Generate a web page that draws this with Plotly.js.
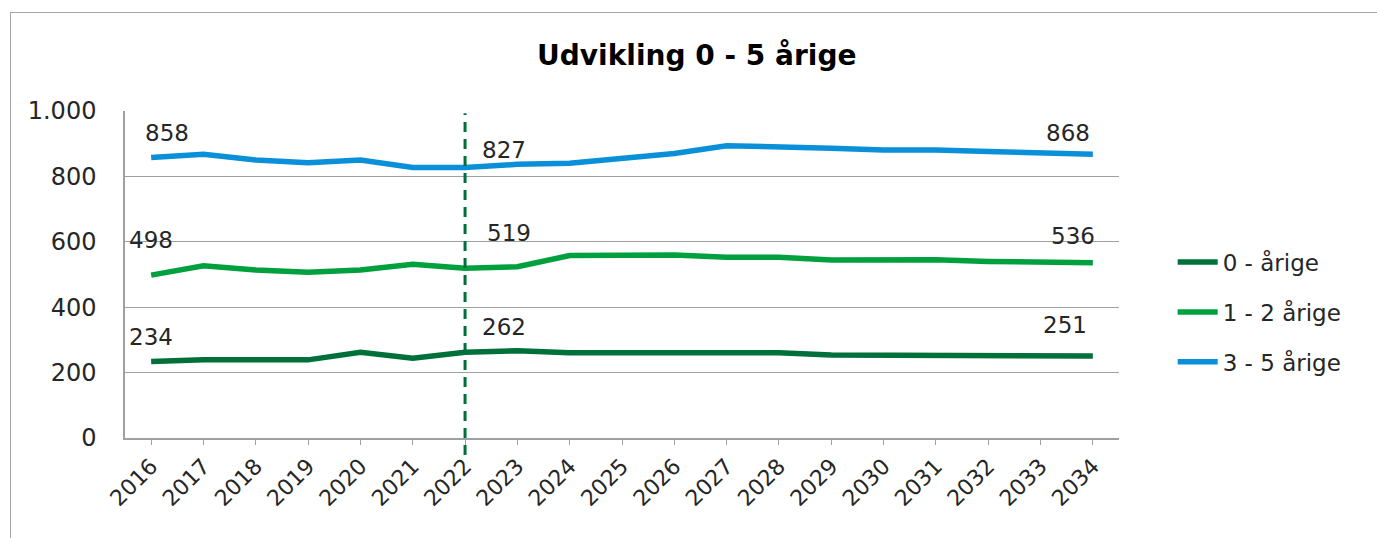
<!DOCTYPE html>
<html>
<head>
<meta charset="utf-8">
<script src="https://cdn.plot.ly/plotly-3.0.1.min.js"></script>
<style>
html,body{margin:0;padding:0;background:#fff;overflow:hidden;}
#wrap{position:relative;width:1377px;height:538px;}
#chart{width:1377px;height:538px;}
#frame{position:absolute;left:10px;top:12px;width:1400px;height:600px;border:1.5px solid #a6a6a6;pointer-events:none;}
#err{position:absolute;left:20px;top:500px;color:red;font:12px monospace;}
</style>
</head>
<body>
<div id="wrap"><div id="chart"></div><div id="frame"></div><div id="err"></div></div>
<script>
window.onerror = function(m){ document.getElementById('err').textContent += ' ' + m; };
const years = ['2016','2017','2018','2019','2020','2021','2022','2023','2024','2025','2026','2027','2028','2029','2030','2031','2032','2033','2034'];
const age0   = [234,239,239,239,262,244,262,267,261,261,261,261,261,254,254,254,254,254,251];
const age12  = [498,527,514,507,514,531,519,524,558,560,560,553,553,544,544,545,540,540,536];
const age35  = [858,868,850,842,850,827,827,837,840,855,870,894,888,886,881,881,876,871,868];
const seriesNames = ['0 - årige','1 - 2 årige','3 - 5 årige'];
const colors = ['#00703a','#00a03e','#0a90d8'];
const markerYear = '2022';
const labelIdx = [0, 6, 18];

const FONT = 'DejaVu Sans, sans-serif';
const series = [age0, age12, age35];
const traces = series.map((s,i)=>({
  x: years, y: s, type:'scatter', mode:'lines', name: seriesNames[i], legendgroup:'g'+i,
  line:{color:colors[i], width:5.5, shape:'linear'}, hoverinfo:'skip'
}));

// label offsets (styling only)
const offs = [
  [[0,24],[39,25],[-28,31]],
  [[0,35],[44,35],[-20,27]],
  [[16,24],[39,18],[-25,21]]
];
const annotations = [];
series.forEach((s,si)=>{
  labelIdx.forEach((idx,k)=>{
    annotations.push({x: idx, y: s[idx], xref:'x', yref:'y', text: String(s[idx]),
      showarrow:false, xshift: offs[si][k][0], yshift: offs[si][k][1],
      font:{family:FONT, size:23, color:'#262626'}});
  });
});

const mIdx = years.indexOf(markerYear);
const layout = {
  width:1377, height:538,
  margin:{l:125, r:258, t:111, b:100},
  paper_bgcolor:'#fff', plot_bgcolor:'#fff',
  separators:',.',
  font:{family:FONT, color:'#262626'},
  title:{text:'<b>Udvikling 0 - 5 årige</b>', x:0.506, xanchor:'center', y:0.897, yanchor:'middle', font:{family:FONT, size:28, color:'#000'}},
  xaxis:{type:'category', range:[-0.5,18.5], showgrid:false, showline:true, linecolor:'#a0a0a0', linewidth:1.5, automargin:false,
    ticks:'outside', ticklen:5, tickcolor:'#a0a0a0', tickangle:-45, tickfont:{family:FONT, size:22, color:'#262626'}, zeroline:false, fixedrange:true},
  yaxis:{range:[0,1000], tickvals:[0,200,400,600,800,1000], tickformat:',d', showgrid:true, gridcolor:'#a0a0a0', gridwidth:1.2, automargin:false,
    showline:true, linecolor:'#a0a0a0', linewidth:1.5, ticks:'', ticklabelstandoff:22, tickfont:{family:FONT, size:24, color:'#262626'}, zeroline:false, fixedrange:true},
  legend:{x:1.054, y:0.385, xanchor:'left', yanchor:'middle', font:{family:FONT, size:23, color:'#262626'}, traceorder:'grouped', tracegroupgap:17, itemwidth:40, bgcolor:'rgba(0,0,0,0)'},
  shapes:[{type:'line', xref:'x', yref:'paper', x0:mIdx, x1:mIdx, y0:-0.052, y1:0.993,
    line:{color:'#00703a', width:3, dash:'10px,7px'}}],
  annotations: annotations,
  showlegend:true
};
Plotly.newPlot('chart', traces, layout, {displayModeBar:false}).catch(e=>{document.getElementById('err').textContent += ' ' + e;});
</script>
</body>
</html>
